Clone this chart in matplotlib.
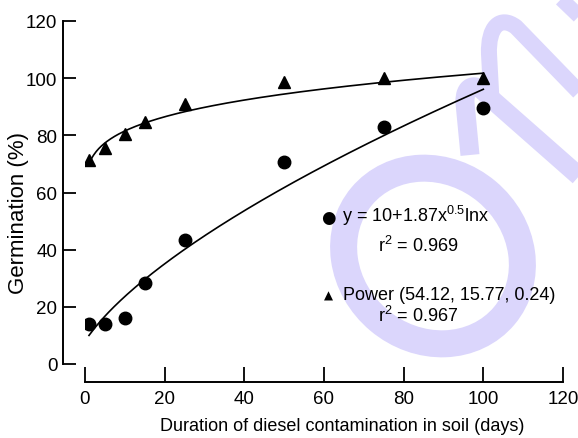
import numpy as np
import matplotlib
matplotlib.use("Agg")
import matplotlib.pyplot as plt
from matplotlib.patches import Ellipse, PathPatch
from matplotlib.path import Path
from matplotlib.transforms import IdentityTransform

plt.rcParams['font.family'] = ['Liberation Sans', 'DejaVu Sans']
plt.rcParams['mathtext.default'] = 'regular'

# ---- data ----
days = [1, 5, 10, 15, 25, 50, 75, 100]
germ_power = [71.5, 75.5, 80.5, 84.5, 91, 98.5, 100, 100]   # triangles
germ_log = [14, 14, 16, 28.5, 43.5, 70.5, 83, 89.5]          # circles

# fitted models shown in the chart
log_a, log_b, log_p = 10.0, 1.87, 0.5          # y = a + b*x^p*ln(x)
pow_a, pow_b, pow_c = 54.12, 15.77, 0.24       # y = a + b*x^c

x_ticks = [0, 20, 40, 60, 80, 100, 120]
y_ticks = [0, 20, 40, 60, 80, 100, 120]

W, H = 578, 439
fig = plt.figure(figsize=(W / 100, H / 100), dpi=100)
ax = fig.add_axes([85 / W, (H - 365) / H, 478 / W, 343 / H])
ax.set_facecolor('none')
ax.set_zorder(1)

# ---- watermark (decorative, behind everything) ----
wm = '#dbd6fc'
ring = Ellipse((433, H - 257), 186, 168, angle=-40, fill=False,
               edgecolor=wm, linewidth=27 * 0.72, transform=IdentityTransform(),
               zorder=-1)
fig.patches.append(ring)

def wm_path(verts, codes, lw):
    v = [(x, H - y) for x, y in verts]
    p = PathPatch(Path(v, codes), fill=False, edgecolor=wm, linewidth=lw * 0.72,
                  capstyle='butt', joinstyle='round', transform=IdentityTransform(),
                  zorder=-1)
    fig.patches.append(p)

M, L, C = Path.MOVETO, Path.LINETO, Path.CURVE4
wm_path([(492, 110), (489, 55), (488, 28), (500, 16), (516, 28), (580, 94)],
        [M, L, C, C, C, L], 16)
wm_path([(470, 156), (465, 104), (464, 86), (476, 82), (488, 97), (580, 178)],
        [M, L, C, C, C, L], 19)
wm_path([(556, -5), (582, 20)], [M, L], 15)

# ---- fitted curves ----
xf = np.linspace(1, 100, 300)
ax.plot(xf, log_a + log_b * xf ** log_p * np.log(xf), color='black', lw=1.2, zorder=3)
xp = np.linspace(1.5, 100, 300)
ax.plot(xp, pow_a + pow_b * xp ** pow_c, color='black', lw=1.2, zorder=3)

# ---- points ----
ax.plot(days, germ_log, 'o', color='black', markersize=9, zorder=4)
ax.plot(days, germ_power, '^', color='black', markersize=8.5, zorder=4)

ax.set_xlim(0, 120)
ax.set_ylim(0, 120)
ax.set_xticks(x_ticks)
ax.set_yticks(y_ticks)

for s in ['top', 'right']:
    ax.spines[s].set_visible(False)
ax.spines['left'].set_position(('outward', 22 * 0.72))
ax.spines['bottom'].set_position(('outward', 18 * 0.72))
for s in ['left', 'bottom']:
    ax.spines[s].set_linewidth(1.4)

ax.tick_params(axis='y', direction='in', length=9.4, width=1.3, labelsize=13.5, pad=4)
ax.tick_params(axis='x', direction='in', length=10.8, width=1.3, labelsize=13.5, pad=6)

fig.text(19 / W, 1 - 213 / H, 'Germination (%)', rotation=90, fontsize=16,
         ha='center', va='center', zorder=2)
fig.text(342 / W, 1 - 427 / H, 'Duration of diesel contamination in soil (days)',
         fontsize=13, ha='center', va='center', zorder=2)

# ---- annotations ----
fs = 13
def note(x, y, s, **kw):
    kw.setdefault('fontsize', fs)
    fig.text(x / W, 1 - y / H, s, va='center', zorder=2, **kw)

note(328, 218, '\u25CF', fontsize=12, ha='center', family=['DejaVu Sans'])
note(342, 216, 'y = 10+1.87x$^{0.5}$lnx', ha='left')
note(378, 246, 'r$^{2}$ = 0.969', ha='left')
note(328, 296, '\u25B2', fontsize=8.5, ha='center', family=['DejaVu Sans'])
note(343, 295, 'Power (54.12, 15.77, 0.24)', ha='left')
note(378, 316, 'r$^{2}$ = 0.967', ha='left')

fig.savefig('out.png', dpi=100)
